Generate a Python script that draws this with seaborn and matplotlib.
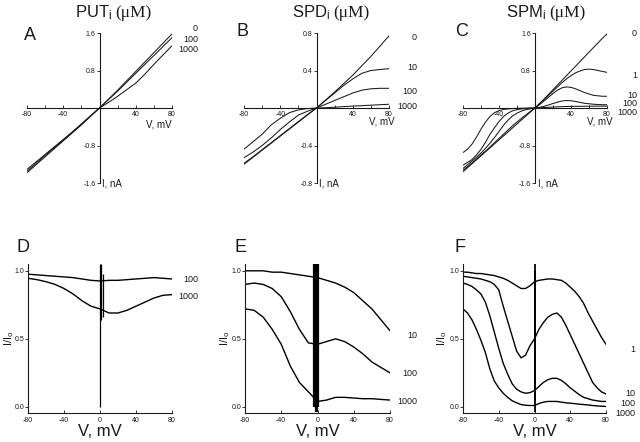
import matplotlib
matplotlib.use("Agg")
import matplotlib.pyplot as plt
import numpy as np
import pandas as pd
import seaborn as sns

# ---------------- data ----------------
V10 = [-80, -70, -60, -50, -40, -30, -20, -10, 0, 10, 20, 30, 40, 50, 60, 70, 80]
V5 = [-80, -75, -70, -65, -60, -55, -50, -45, -40, -35, -30, -25, -20, -15, -10, -5,
      0, 5, 10, 15, 20, 25, 30, 35, 40, 45, 50, 55, 60, 65, 70, 75, 80]

# Panel A: putrescine I-V (nA)
A_conc = ["0", "100", "1000"]
A_0 = [-1.38, -1.21, -1.04, -0.87, -0.70, -0.53, -0.36, -0.18, 0, 0.19, 0.38, 0.58, 0.78, 0.98, 1.18, 1.38, 1.58]
A_100 = [-1.35, -1.18, -1.01, -0.85, -0.69, -0.52, -0.35, -0.17, 0, 0.18, 0.36, 0.55, 0.74, 0.93, 1.12, 1.31, 1.50]
A_1000 = [-1.31, -1.15, -0.99, -0.83, -0.67, -0.51, -0.34, -0.17, 0, 0.12, 0.25, 0.39, 0.53, 0.72, 0.93, 1.13, 1.33]

# Panel B: spermidine I-V (nA)
B_conc = ["0", "10", "100", "1000"]
B_0 = [-0.60, -0.525, -0.45, -0.375, -0.30, -0.225, -0.15, -0.075, 0, 0.085, 0.17, 0.26, 0.35, 0.45, 0.55, 0.66, 0.77]
B_10 = [-0.59, -0.52, -0.445, -0.37, -0.295, -0.22, -0.145, -0.07, 0, 0.08, 0.16, 0.24, 0.31, 0.37, 0.40, 0.41, 0.42]
B_100 = [-0.53, -0.47, -0.40, -0.32, -0.23, -0.15, -0.075, -0.035, 0, 0.04, 0.08, 0.12, 0.16, 0.19, 0.205, 0.21, 0.21]
B_1000 = [-0.44, -0.36, -0.28, -0.18, -0.11, -0.05, -0.02, -0.006, 0, 0.003, 0.008, 0.015, 0.02, 0.025, 0.03, 0.035, 0.04]

# Panel C: spermine I-V (nA)
C_conc = ["0", "1", "10", "100", "1000"]
C_0 = [-1.36, -1.275, -1.19, -1.105, -1.02, -0.935, -0.85, -0.765, -0.68, -0.595, -0.51, -0.425, -0.34, -0.255, -0.17, -0.085,
       0, 0.095, 0.19, 0.29, 0.39, 0.49, 0.59, 0.69, 0.79, 0.89, 0.99, 1.09, 1.19, 1.29, 1.39, 1.49, 1.58]
C_1 = [-1.33, -1.25, -1.17, -1.09, -1.0, -0.92, -0.83, -0.74, -0.65, -0.56, -0.47, -0.38, -0.30, -0.22, -0.145, -0.07,
       0, 0.09, 0.18, 0.27, 0.36, 0.45, 0.54, 0.62, 0.69, 0.75, 0.79, 0.82, 0.83, 0.82, 0.80, 0.78, 0.76]
C_10 = [-1.29, -1.21, -1.13, -1.05, -0.96, -0.86, -0.75, -0.63, -0.50, -0.37, -0.26, -0.17, -0.11, -0.065, -0.035, -0.015,
        0, 0.07, 0.15, 0.23, 0.31, 0.38, 0.43, 0.45, 0.44, 0.41, 0.37, 0.33, 0.30, 0.27, 0.26, 0.25, 0.25]
C_100 = [-1.22, -1.16, -1.10, -1.0, -0.88, -0.73, -0.56, -0.42, -0.29, -0.18, -0.11, -0.06, -0.035, -0.02, -0.01, -0.005,
         0, 0.015, 0.035, 0.065, 0.095, 0.125, 0.15, 0.16, 0.155, 0.14, 0.12, 0.10, 0.09, 0.08, 0.075, 0.07, 0.07]
C_1000 = [-0.95, -0.88, -0.77, -0.62, -0.45, -0.30, -0.18, -0.10, -0.055, -0.03, -0.02, -0.012, -0.008, -0.005, -0.003, -0.001,
          0, 0.005, 0.01, 0.015, 0.02, 0.025, 0.03, 0.032, 0.034, 0.035, 0.036, 0.037, 0.038, 0.039, 0.04, 0.04, 0.04]

# Panel D: putrescine I/Io
D_conc = ["100", "1000"]
D_100 = [0.975, 0.97, 0.965, 0.96, 0.955, 0.95, 0.94, 0.93, 0.925, 0.93, 0.93, 0.935, 0.94, 0.945, 0.95, 0.945, 0.94]
D_1000 = [0.945, 0.935, 0.92, 0.90, 0.87, 0.83, 0.78, 0.74, 0.72, 0.69, 0.69, 0.71, 0.74, 0.77, 0.80, 0.82, 0.825]
D_art_v = [0, 1.5, 3]
D_art_lo = [0.0, 0.64, 0.66]
D_art_hi = [1.05, 1.05, 0.98]

# Panel E: spermidine I/Io
E_conc = ["10", "100", "1000"]
E_10 = [1.0, 1.0, 1.0, 0.99, 0.99, 0.98, 0.97, 0.96, 0.95, 0.93, 0.91, 0.88, 0.84, 0.78, 0.72, 0.64, 0.56]
E_100 = [0.90, 0.91, 0.90, 0.87, 0.81, 0.70, 0.57, 0.47, 0.46, 0.48, 0.50, 0.48, 0.44, 0.39, 0.33, 0.29, 0.25]
E_1000 = [0.72, 0.71, 0.66, 0.57, 0.46, 0.30, 0.18, 0.11, 0.04, 0.05, 0.07, 0.07, 0.065, 0.06, 0.06, 0.055, 0.05]
E_art_v = [-3.5, -2, -0.5, 1]
E_art_lo = [0.0, -0.04, -0.04, 0.0]
E_art_hi = [1.05, 1.05, 1.05, 1.05]

# Panel F: spermine I/Io
F_conc = ["1", "10", "100", "1000"]
F_1 = [0.99, 0.99, 0.985, 0.98, 0.98, 0.975, 0.97, 0.965, 0.955, 0.945, 0.93, 0.91, 0.89, 0.87, 0.87, 0.89,
       0.92, 0.93, 0.935, 0.94, 0.94, 0.935, 0.93, 0.91, 0.88, 0.85, 0.81, 0.76, 0.69, 0.63, 0.57, 0.51, 0.46]
F_10 = [0.96, 0.955, 0.95, 0.945, 0.94, 0.93, 0.92, 0.90, 0.86, 0.74, 0.63, 0.52, 0.41, 0.36, 0.38, 0.45,
        0.50, 0.57, 0.62, 0.66, 0.68, 0.69, 0.66, 0.60, 0.53, 0.46, 0.39, 0.32, 0.25, 0.18, 0.14, 0.11, 0.095]
F_100 = [0.91, 0.90, 0.885, 0.86, 0.83, 0.77, 0.67, 0.55, 0.43, 0.32, 0.24, 0.17, 0.13, 0.11, 0.10, 0.105,
         0.12, 0.15, 0.18, 0.20, 0.21, 0.21, 0.195, 0.17, 0.14, 0.115, 0.09, 0.07, 0.06, 0.05, 0.045, 0.04, 0.04]
F_1000 = [0.72, 0.69, 0.64, 0.57, 0.49, 0.40, 0.28, 0.19, 0.14, 0.10, 0.07, 0.045, 0.03, 0.017, 0.012, 0.01,
          0.01, 0.025, 0.035, 0.04, 0.04, 0.04, 0.035, 0.03, 0.027, 0.024, 0.02, 0.017, 0.014, 0.01, 0.007, 0.005, 0.003]
F_art_v = [0.5, 0.5]
F_art_lo = [-0.04, 0.05]
F_art_hi = [1.05, 1.0]

titles = ["PUT", "SPD", "SPM"]
title_unit = "(\u03bcM)"

# ---------------- style ----------------
sns.set_style("ticks")
plt.rcParams["font.family"] = ["Liberation Sans", "DejaVu Sans"]
plt.rcParams["mathtext.fontset"] = "custom"
plt.rcParams["mathtext.rm"] = "Liberation Sans"
plt.rcParams["mathtext.it"] = "Liberation Sans:italic"
plt.rcParams["mathtext.sf"] = "Liberation Sans"
plt.rcParams["mathtext.bf"] = "Liberation Sans:bold"

fig = plt.figure(figsize=(6.4, 4.42), dpi=100)
W, H = 640.0, 442.0


def add_ax(x0, x1, ytop, ybot):
    return fig.add_axes([x0 / W, 1 - ybot / H, (x1 - x0) / W, (ybot - ytop) / H])


def long_df(v, series, labels, col):
    rows = []
    for s, lab in zip(series, labels):
        for vv, yy in zip(v, s):
            rows.append((vv, yy, lab))
    return pd.DataFrame(rows, columns=["V", col, "conc"])


ink = "#1a1a1a"

# ---------- top row: I-V ----------
top_specs = [
    (27, 172, V10, [A_0, A_100, A_1000], A_conc, 1.6, [1.6, 0.8, -0.8, -1.6], "A",
     [(1.18, 1.027), (1.18, 0.96), (1.18, 0.893)], (1.0, 0.387)),
    (244, 389, V10, [B_0, B_10, B_100, B_1000], B_conc, 0.8, [0.8, 0.4, -0.4, -0.8], "B",
     [(1.193, 0.967), (1.193, 0.767), (1.193, 0.613), (1.193, 0.507)], (1.04, 0.407)),
    (463, 607, V5, [C_0, C_1, C_10, C_100, C_1000], C_conc, 1.6, [1.6, 0.8, -0.8, -1.6], "C",
     [(1.208, 1.0), (1.208, 0.72), (1.208, 0.58), (1.208, 0.528), (1.208, 0.472)], (1.04, 0.407)),
]
title_split = [112, 330, 546]
letter_pos = [(24, 36), (237, 31), (455, 32)]

for i, (x0, x1, v, series, labs, ymax, yt, letter, lpos, vlab) in enumerate(top_specs):
    ax = add_ax(x0, x1, 33, 183)
    df = long_df(v, series, labs, "I")
    sns.lineplot(data=df, x="V", y="I", hue="conc", palette=[ink] * len(labs),
                 estimator=None, legend=False, lw=0.75, ax=ax)
    ax.set_xlim(-80, 80)
    ax.set_ylim(-ymax, ymax)
    for s in ["top", "right"]:
        ax.spines[s].set_visible(False)
    ax.spines["left"].set_position(("data", 0))
    ax.spines["bottom"].set_position(("data", 0))
    for s in ["left", "bottom"]:
        ax.spines[s].set_linewidth(0.8)
        ax.spines[s].set_color(ink)
    ax.set_xticks([-80, -40, 40, 80])
    ax.set_xticklabels(["-80", "-40", "40", "80"])
    ax.set_xticks([-60, -20, 20, 60], minor=True)
    ax.set_yticks(yt)
    ax.set_yticklabels([f"{t:.1f}" for t in yt])
    ax.tick_params(axis="x", which="both", direction="in", length=2.5, width=0.6,
                   labelsize=5, pad=2, colors=ink)
    ax.tick_params(axis="y", direction="out", length=2, width=0.6, labelsize=5, pad=1, colors=ink)
    ax.set_xlabel("")
    ax.set_ylabel("")
    ax.text(vlab[0], vlab[1], "V, mV", transform=ax.transAxes, ha="right", va="center",
            fontsize=7, color=ink)
    ax.text(3, -ymax, "I, nA", ha="left", va="center", fontsize=7, color=ink)
    for (lx, ly), lab in zip(lpos, labs):
        ax.text(lx, ly, lab, transform=ax.transAxes, ha="right", va="center",
                fontsize=6.5, color=ink, clip_on=False)
    fig.text(title_split[i] / W, 1 - 17 / H, titles[i] + r"$_\mathregular{i}$",
             ha="right", va="baseline", fontsize=12, color=ink)
    fig.text(title_split[i] / W + 3 / W, 1 - 17 / H, title_unit,
             ha="left", va="baseline", fontsize=12.5, color=ink,
             family=["Liberation Serif", "DejaVu Serif"])
    fig.text(letter_pos[i][0] / W, 1 - letter_pos[i][1] / H, letter,
             ha="left", va="center", fontsize=13, color=ink)

# ---------- bottom row: I/Io ----------
bot_specs = [
    (28, 172, V10, [D_100, D_1000], D_conc, "D", (D_art_v, D_art_lo, D_art_hi, 0.9),
     [(1.18, 0.893), (1.18, 0.785)], 2),
    (245, 390, V10, [E_10, E_100, E_1000], E_conc, "E", (E_art_v, E_art_lo, E_art_hi, 1.6),
     [(1.186, 0.523), (1.186, 0.268), (1.186, 0.074)], 218),
    (463, 606, V5, [F_1, F_10, F_100, F_1000], F_conc, "F", (F_art_v, F_art_lo, F_art_hi, 1.3),
     [(1.203, 0.423), (1.203, 0.134), (1.203, 0.067), (1.203, 0.0)], 435),
]
bot_letters = [(16, 247), (235, 247), (455, 247)]

for i, (x0, x1, v, series, labs, letter, art, lpos, ylx) in enumerate(bot_specs):
    ax = add_ax(x0, x1, 264, 413)
    df = long_df(v, series, labs, "ratio")
    sns.lineplot(data=df, x="V", y="ratio", hue="conc", palette=["black"] * len(labs),
                 estimator=None, legend=False, lw=1.0, ax=ax)
    ax.vlines(art[0], art[1], art[2], color="black", lw=art[3])
    ax.set_xlim(-80, 80)
    ax.set_ylim(-0.045, 1.05)
    for s in ["top", "right"]:
        ax.spines[s].set_visible(False)
    for s in ["left", "bottom"]:
        ax.spines[s].set_linewidth(0.8)
        ax.spines[s].set_color(ink)
    ax.set_xticks([-80, -40, 0, 40, 80])
    ax.set_xticklabels(["-80", "-40", "0", "40", "80"])
    ax.set_yticks([0.0, 0.5, 1.0])
    ax.set_yticklabels(["0.0", "0.5", "1.0"])
    ax.tick_params(axis="x", direction="in", length=2.5, width=0.6, labelsize=5, pad=3, colors=ink)
    ax.tick_params(axis="y", direction="out", length=2, width=0.6, labelsize=5, pad=0.5, colors=ink)
    ax.set_xlabel("V, mV", fontsize=12, labelpad=0, color=ink)
    ax.set_ylabel("")
    fig.text(ylx / W, 1 - 338 / H, r"I/I$_\mathregular{o}$", rotation=90, ha="left", va="center",
             fontsize=8, color=ink)
    for (lx, ly), lab in zip(lpos, labs):
        ax.text(lx, ly, lab, transform=ax.transAxes, ha="right", va="center",
                fontsize=6.5, color=ink, clip_on=False)
    fig.text(bot_letters[i][0] / W, 1 - bot_letters[i][1] / H, letter,
             ha="left", va="center", fontsize=13, color=ink)

fig.savefig("out.png", dpi=100)
